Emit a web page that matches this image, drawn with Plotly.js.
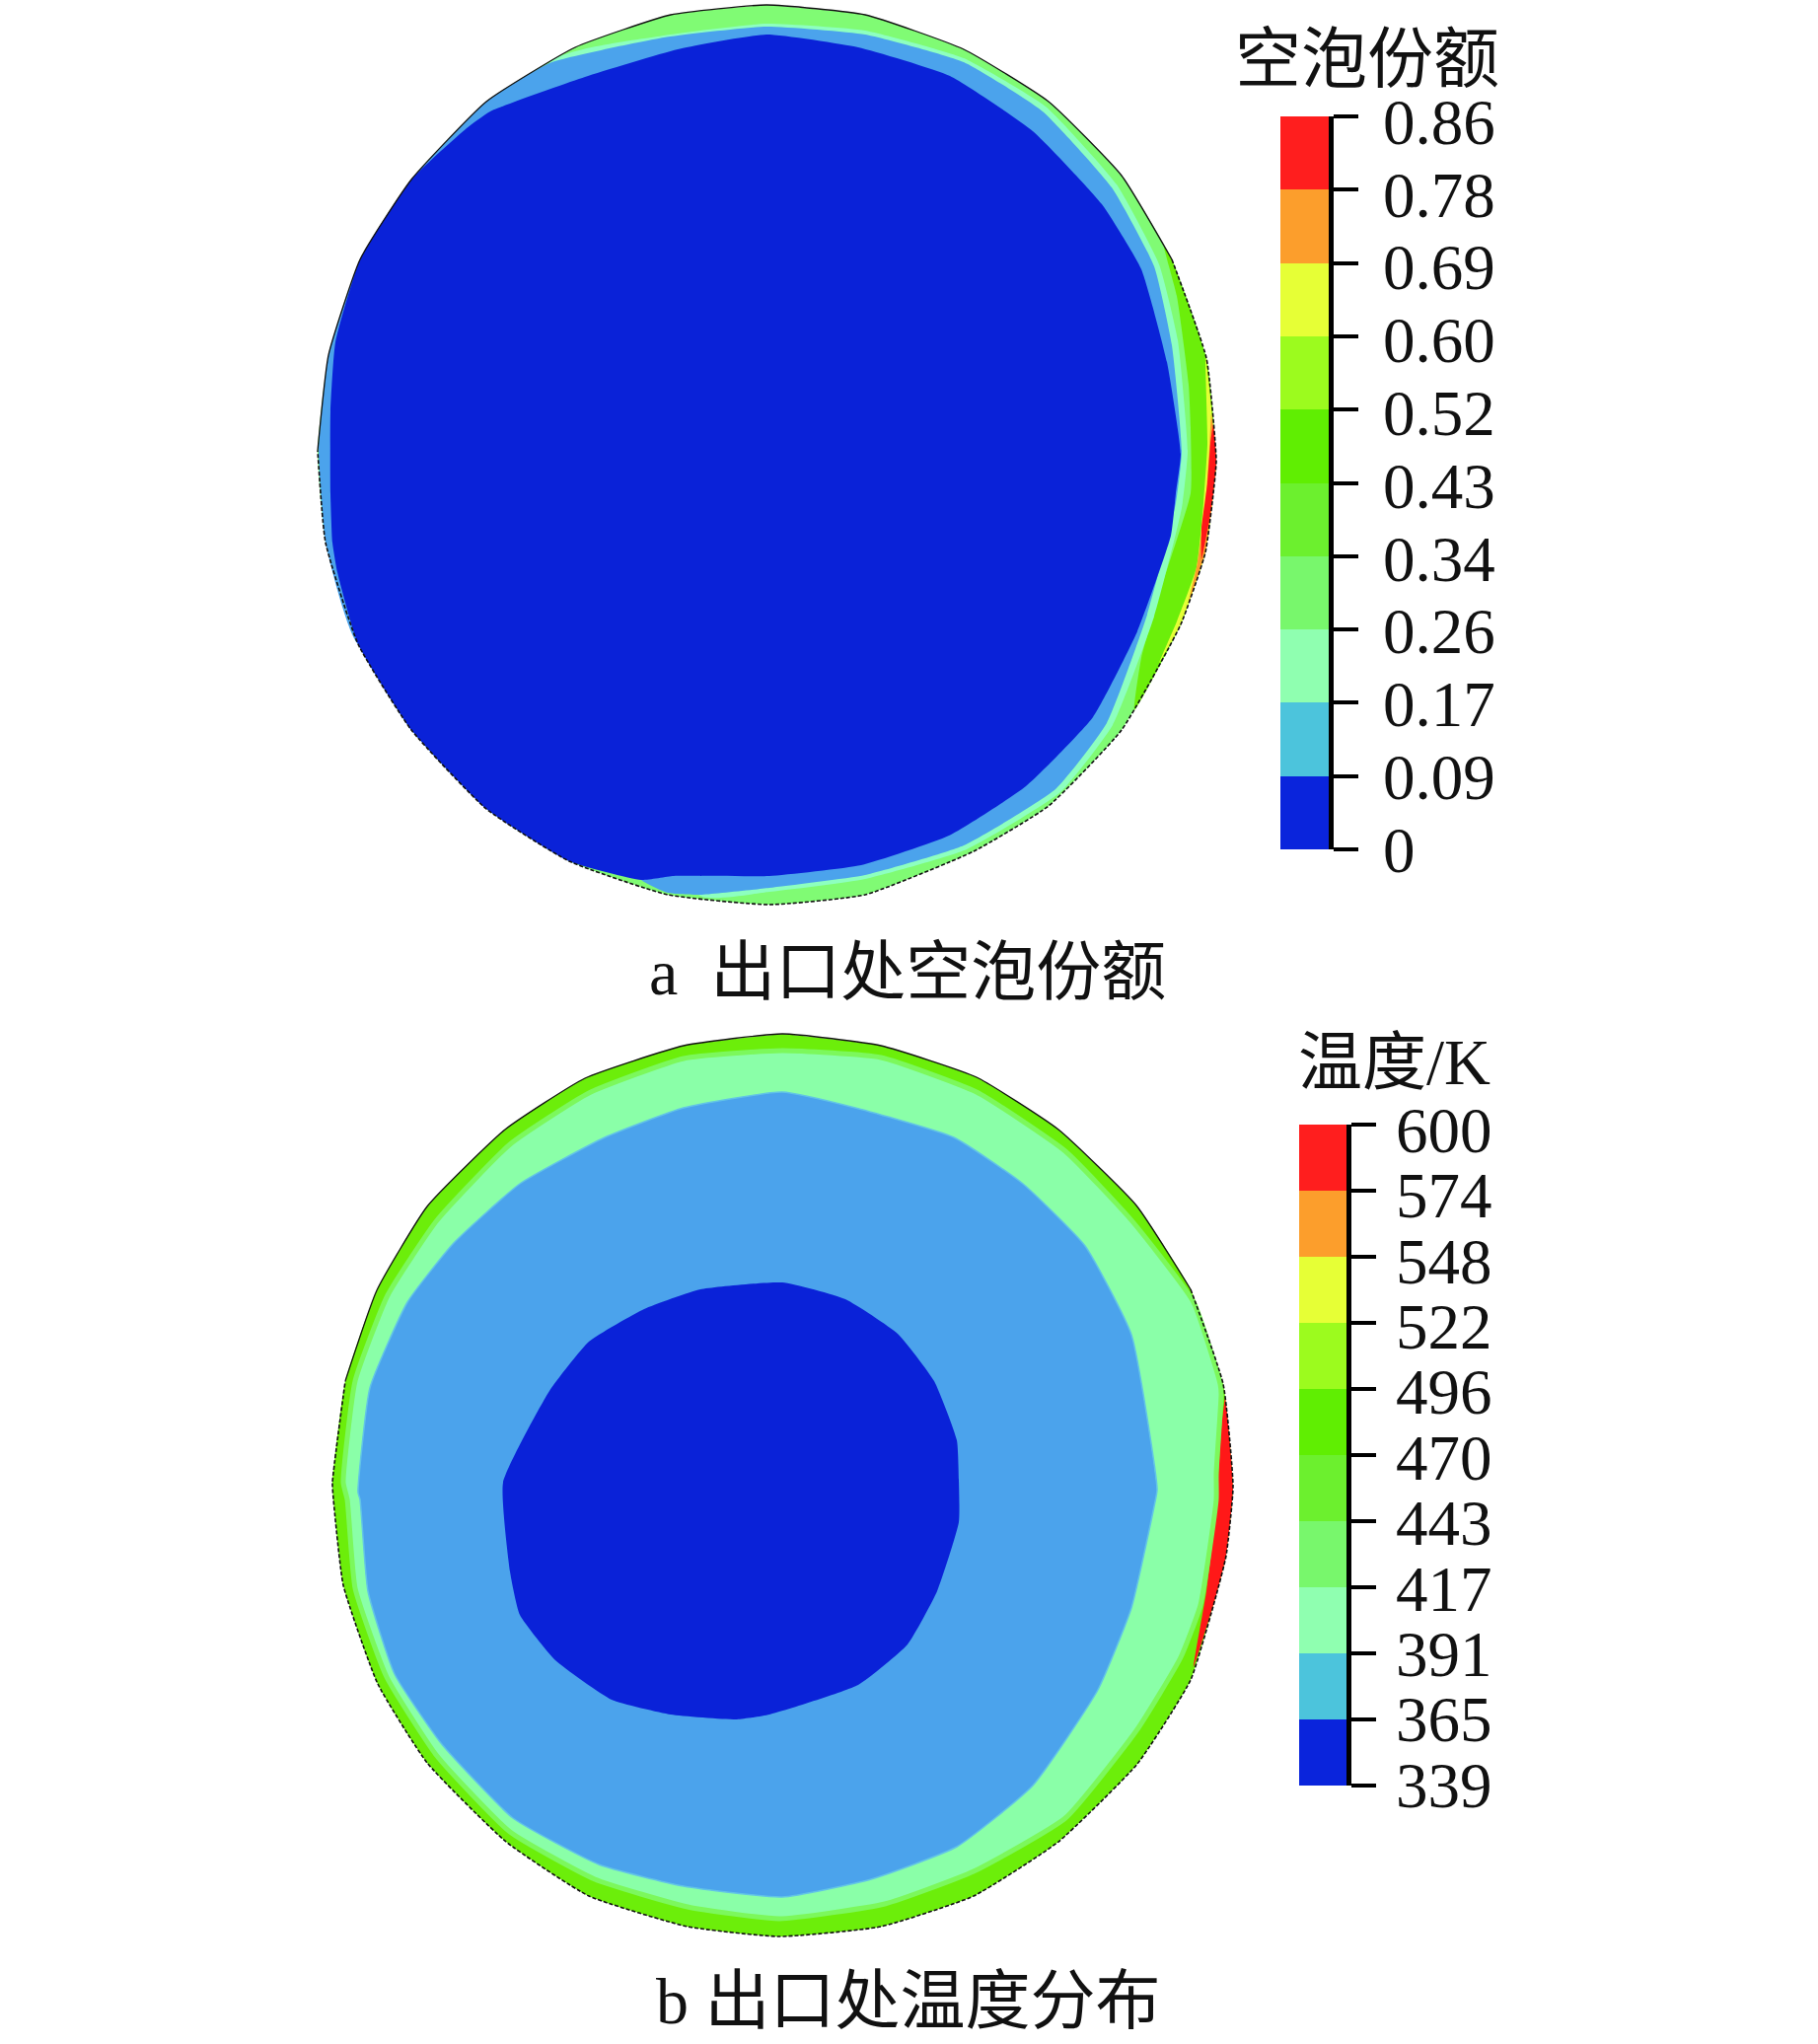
<!DOCTYPE html>
<html><head><meta charset="utf-8">
<script src="https://cdn.plot.ly/plotly-3.0.1.min.js"></script>
<style>html,body{margin:0;padding:0;background:#fff}#c{width:1843px;height:2072px}</style>
</head><body><div id="c"></div>
<script>
// Contour outlines, in image pixels [x, y]
const voidOuter=[[777,5],[877,15],[977,50],[1063,103],[1137,178],[1188,263],[1223,363],[1233,467],[1230,500],[1222,560],[1197,633],[1137,740],[1063,817],[987,863],[877,907],[780,917],[677,907],[577,873],[493,820],[417,740],[363,653],[330,550],[322,457],[333,360],[365,263],[417,182],[493,103],[583,48],[680,15],[777,5]];
const voidGreen=[[1180,250],[1188,263],[1223,363],[1233,467],[1230,500],[1222,560],[1197,633],[1150,720],[1157,667],[1178,593],[1207,500],[1207,433],[1205,390],[1193,300]];
const voidYellow=[[1222,360],[1233,467],[1230,500],[1222,560],[1197,633],[1175,672],[1193,630],[1213,575],[1220,510],[1224,450]];
const voidOrange=[[1228,420],[1233,467],[1230,500],[1222,560],[1205,610],[1214,570],[1222,510],[1226,455]];
const voidRed=[[1230,430],[1233,467],[1230,500],[1226,527],[1218,567],[1218,535],[1224,490],[1227,450]];
const voidMint=[[777,24],[877,31],[977,59],[1060,108],[1132,187],[1175,268],[1194,345],[1204,457],[1198,515],[1170,625],[1128,735],[1075,803],[980,861],[877,891],[780,904],[710,908],[600,600],[557,64],[673,36]];
const voidMid=[[777,27],[877,35],[977,63],[1057,113],[1127,190],[1170,270],[1188,350],[1198,457],[1192,510],[1163,623],[1122,733],[1070,800],[977,857],[877,887],[780,900],[710,907],[677,905],[650,892],[500,700],[363,653],[330,550],[323,457],[333,360],[365,263],[417,182],[493,103],[557,64],[673,38]];
const voidBlue=[[777,35],[870,48],[963,77],[1047,133],[1117,207],[1157,273],[1183,367],[1197,460],[1192,500],[1187,543],[1153,640],[1108,727],[1040,797],[962,847],[873,877],[780,888],[683,888],[650,892],[577,873],[493,820],[417,740],[363,653],[342,580],[337,550],[335,500],[335,417],[340,347],[365,263],[417,182],[473,130],[497,113],[593,78],[687,50]];

const tempOuter=[[793,1048],[893,1060],[990,1092],[1073,1145],[1152,1222],[1207,1307],[1240,1403],[1250,1507],[1243,1577],[1233,1617],[1207,1703],[1153,1788],[1073,1867],[987,1922],[893,1953],[790,1963],[697,1953],[597,1922],[513,1867],[433,1787],[383,1707],[348,1607],[338,1520],[337,1503],[350,1400],[382,1308],[433,1223],[512,1145],[593,1093],[693,1060],[793,1048]];
const tempRed=[[1242,1417],[1250,1507],[1243,1577],[1233,1617],[1210,1690],[1223,1613],[1233,1530],[1238,1450]];
const tempMint=[[793,1065],[893,1072],[990,1107],[1080,1167],[1147,1237],[1210,1320],[1237,1403],[1238,1413],[1233,1493],[1233,1520],[1217,1627],[1197,1680],[1153,1753],[1080,1843],[987,1897],[897,1930],[790,1945],[697,1933],[603,1905],[517,1857],[443,1780],[392,1700],[360,1610],[352,1520],[348,1503],[360,1400],[393,1313],[443,1237],[517,1160],[597,1108],[693,1073]];
const tempMid=[[793,1107],[867,1123],[967,1153],[1037,1200],[1100,1263],[1147,1353],[1173,1510],[1170,1527],[1147,1630],[1113,1713],[1047,1810],[970,1872],[883,1905],[793,1923],[693,1912],[607,1890],[520,1843],[447,1767],[400,1697],[373,1613],[365,1520],[363,1513],[375,1407],[413,1320],[460,1260],[527,1200],[613,1153],[693,1123]];
const tempBlue=[[793,1300],[857,1317],[910,1352],[947,1400],[970,1460],[972,1500],[972,1543],[950,1613],[920,1667],[870,1708],[780,1738],[747,1743],[680,1738],[620,1723],[563,1683],[527,1637],[517,1593],[510,1503],[557,1410],[597,1360],[653,1327],[710,1307]];

// Colour bars
const bandColors=['#0a24dc','#4cc4dc','#8fffb0','#78f76c','#6cf02e','#60ee02','#9cfb1e','#e6ff36','#fc9e2c','#ff1e1e'];
const voidTicks=['0','0.09','0.17','0.26','0.34','0.43','0.52','0.60','0.69','0.78','0.86'];
const tempTicks=['339','365','391','417','443','470','496','522','548','574','600'];

const W=1843,H=2072;
const BLUE='#0a22d8',MID='#4ba3ec',MINT='#8affa8',LIGHT='#80fb74',GREEN='#6cee0a',RED='#ff1818';
const SMOOTH=0.45;
function poly(p,fill,line){
  const l=Object.assign({width:0,shape:'spline',smoothing:SMOOTH},line||{});
  return {type:'scatter',mode:'lines',x:p.map(q=>q[0]).concat([p[0][0]]),y:p.map(q=>q[1]).concat([p[0][1]]),
    fill:'toself',fillcolor:fill,line:l,hoverinfo:'skip',showlegend:false,xaxis:'x',yaxis:'y'};
}
function outline(p,dash){
  return {type:'scatter',mode:'lines',x:p.map(q=>q[0]),y:p.map(q=>q[1]),line:{color:'#111',width:dash==='solid'?1.3:1.6,dash:dash,shape:'spline',smoothing:SMOOTH},hoverinfo:'skip',showlegend:false,xaxis:'x',yaxis:'y'};
}
function bars(xa,ya){
  return {type:'bar',xaxis:xa,yaxis:ya,x:bandColors.map(()=>0.5),y:bandColors.map(()=>1),base:bandColors.map((_,i)=>i),width:bandColors.map(()=>1),
    marker:{color:bandColors,line:{width:0}},hoverinfo:'skip',showlegend:false};
}
function labelHolder(xa,ya){
  return {type:'scatter',mode:'markers',xaxis:xa,yaxis:ya,x:[0.5],y:[0],marker:{opacity:0,size:1},hoverinfo:'skip',showlegend:false};
}
const traces=[
  poly(voidOuter,LIGHT),poly(voidGreen,GREEN),poly(voidYellow,'#e6ff36'),poly(voidOrange,'#fc9e2c'),poly(voidRed,RED),
  poly(voidMint,'#8dffc0'),poly(voidMid,MID),poly(voidBlue,BLUE),
  outline(voidOuter.slice(22).concat(voidOuter.slice(1,6)),'solid'),outline(voidOuter.slice(5,23),'4px,2px'),
  poly(tempOuter,GREEN),poly(tempRed,RED),poly(tempMint,MINT,{color:'#7cf85c',width:5}),poly(tempMid,MID,{color:'#62c4e6',width:1.5}),poly(tempBlue,BLUE),
  outline(tempOuter.slice(24).concat(tempOuter.slice(1,6)),'solid'),outline(tempOuter.slice(5,25),'4px,2px'),
  bars('x2','y2'),bars('x3','y3'),labelHolder('x2','y4'),labelHolder('x3','y5')
];
const serif='"Liberation Serif","Noto Sans CJK SC",serif';
function cbAxis(ticks,anchor,y0,y1){
  return {domain:[1-y1/H,1-y0/H],range:[0,10],anchor:anchor,side:'right',showgrid:false,zeroline:false,showline:true,linecolor:'#000',linewidth:5,
    ticks:'outside',ticklen:25,tickwidth:4,tickcolor:'#000',tickmode:'array',tickvals:ticks.map((_,i)=>i),ticktext:ticks.map(()=>''),showticklabels:false};
}
function labelAxis(ticks,anchor,y0,y1,standoff){
  return {domain:[1-y1/H,1-y0/H],range:[0,10],anchor:anchor,side:'right',showgrid:false,zeroline:false,showline:false,ticks:'',
    tickmode:'array',tickvals:ticks.map((_,i)=>i),ticktext:ticks,ticklabelstandoff:standoff,
    tickfont:{family:'"Liberation Serif",serif',size:65,color:'#111'}};
}
function xAxisPx(x0,x1,a){return {domain:[x0/W,x1/W],range:[0,1],anchor:a,visible:false,fixedrange:true};}
function txt(t,x,y,anchor,size){return {text:t,xref:'x',yref:'y',x:x,y:y,xanchor:anchor,yanchor:'middle',showarrow:false,font:{family:serif,size:size,color:'#111'}};}
const layout={width:W,height:H,margin:{l:0,r:0,t:0,b:0},paper_bgcolor:'#fff',plot_bgcolor:'rgba(0,0,0,0)',barmode:'overlay',bargap:0,showlegend:false,
  xaxis:{domain:[0,1],range:[0,W],visible:false,anchor:'y'},
  yaxis:{domain:[0,1],range:[H,0],visible:false,anchor:'x'},
  xaxis2:xAxisPx(1298,1347,'y2'),yaxis2:cbAxis(voidTicks,'x2',118,861),
  xaxis3:xAxisPx(1317,1365,'y3'),yaxis3:cbAxis(tempTicks,'x3',1140,1810),
  yaxis4:labelAxis(voidTicks,'x2',123,861,54),
  yaxis5:labelAxis(tempTicks,'x3',1145,1809,49),
  annotations:[
    txt('空泡份额',1522,60,'right',67),
    txt('温度/K',1513,1077,'right',65),
    txt('a\u2002出口处空泡份额',656,985,'left',66),
    txt('b 出口处温度分布',663,2028,'left',66)
  ]};
Plotly.newPlot('c',traces,layout,{displayModeBar:false,staticPlot:true});
</script></body></html>
